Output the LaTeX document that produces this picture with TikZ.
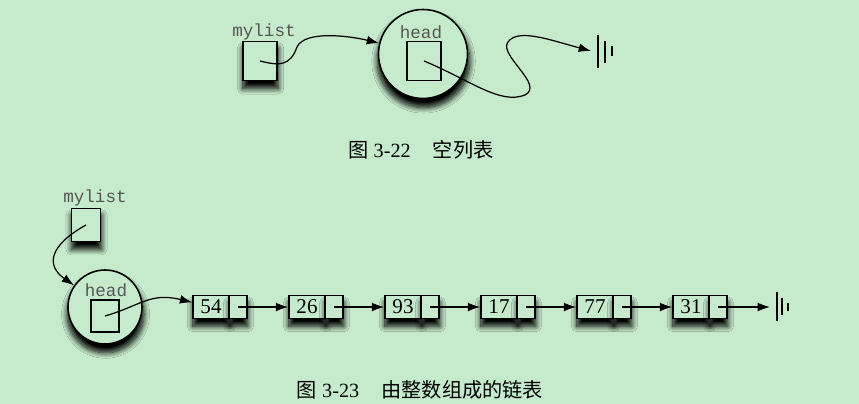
\documentclass[tikz,border=0pt]{standalone}
\usepackage{fontspec}
\setmainfont{Liberation Serif}
\setmonofont{Liberation Mono}
\newfontfamily\cjk{Noto Sans CJK SC}
\usetikzlibrary{arrows.meta,shadows.blur}
\definecolor{bggreen}{HTML}{C6EBCC}
\definecolor{labelgray}{HTML}{555555}
\begin{document}
\begin{tikzpicture}[x=0.02cm,y=-0.02cm,>={Latex[length=7pt,width=5pt]},line width=0.7pt]
        \tikzstyle{shade}=[blur shadow={shadow xshift=0.3pt,shadow yshift=-4pt,shadow scale=1.04,shadow blur radius=3pt,shadow blur steps=10,shadow opacity=100}]
        \tikzstyle{var}=[draw,fill=bggreen,line width=0.9pt,inner sep=0pt,shade]
        \tikzstyle{box}=[draw,line width=0.9pt,inner sep=0pt]
        \tikzstyle{obj}=[circle,draw,fill=bggreen,line width=0.9pt,inner sep=0pt,shade]
        \tikzstyle{item}=[draw,fill=bggreen,line width=0.9pt,inner sep=0pt,minimum width=0.72cm,minimum height=0.46cm,font=\fontsize{12}{13}\selectfont,shade]
        \tikzstyle{link}=[draw,fill=bggreen,line width=0.9pt,inner sep=0pt,minimum width=0.36cm,minimum height=0.46cm,shade]
        \tikzstyle{lbl}=[font=\ttfamily\fontsize{10}{12}\selectfont,text=labelgray,inner sep=0pt]
        \tikzstyle{caption}=[font=\fontsize{11.5}{14}\selectfont,inner sep=0pt]
        \tikzstyle{ground}=[line width=1.1pt]

        \fill[bggreen] (0,0) rectangle (859,404);

        % empty list
        \node [var,minimum width=0.68cm,minimum height=0.78cm] (ml1) at (260,61) {};
        \node [lbl] (mlt1) at (264,32) {mylist};
        \node [obj,minimum size=1.78cm] (hd1) at (423,54) {};
        \node [box,minimum width=0.68cm,minimum height=0.78cm] (hdb1) at (424,61) {};
        \node [lbl] (hdt1) at (421,32) {head};
        \coordinate (g1) at (591,51);

        \draw[->] (ml1.center) .. controls (280,66) and (290,66) .. (297,47)
                  .. controls (305,30) and (350,36) .. (hd1);
        \draw[->] (hdb1.center) .. controls (470,80) and (500,105) .. (525,95)
                  .. controls (545,85) and (498,55) .. (508,42)
                  .. controls (518,28) and (550,40) .. (g1);
        \draw[ground] (g1) ++(7,-16) -- ++(0,33);
        \draw[ground] (g1) ++(14,-10) -- ++(0,22);
        \draw[ground] (g1) ++(21,-5) -- ++(0,10);

        \node [caption] (cap1) at (421,150) {{\cjk 图} 3-22\hspace{1.1em}{\cjk 空列表}};

        % list of integers
        \node [var,minimum width=0.58cm,minimum height=0.66cm] (ml2) at (86,225) {};
        \node [lbl] (mlt2) at (95,198) {mylist};
        \node [obj,minimum size=1.48cm] (hd2) at (105,307) {};
        \node [box,minimum width=0.56cm,minimum height=0.64cm] (hdb2) at (105,316) {};
        \node [lbl] (hdt2) at (106,290) {head};

        \node [item] (n54) at (211,307) {54};
        \node [link] (p54) at (238,307) {};
        \node [item] (n26) at (307,307) {26};
        \node [link] (p26) at (334,307) {};
        \node [item] (n93) at (403,307) {93};
        \node [link] (p93) at (430,307) {};
        \node [item] (n17) at (499,307) {17};
        \node [link] (p17) at (526,307) {};
        \node [item] (n77) at (595,307) {77};
        \node [link] (p77) at (622,307) {};
        \node [item] (n31) at (691,307) {31};
        \node [link] (p31) at (718,307) {};
        \coordinate (g2) at (770,307);

        \draw[->] (ml2.center) .. controls (50,245) and (45,265) .. (hd2);
        \draw[->] (hdb2.center) .. controls (140,306) and (150,292) .. (n54);
        \draw[->] (p54.center) -- (n26);
        \draw[->] (p26.center) -- (n93);
        \draw[->] (p93.center) -- (n17);
        \draw[->] (p17.center) -- (n77);
        \draw[->] (p77.center) -- (n31);
        \draw[->] (p31.center) -- (g2);
        \draw[ground] (g2) ++(7,-15) -- ++(0,29);
        \draw[ground] (g2) ++(12,-9) -- ++(0,17);
        \draw[ground] (g2) ++(18,-4) -- ++(0,8);

        \node [caption] (cap2) at (420,390) {{\cjk 图} 3-23\hspace{1.1em}{\cjk 由整数组成的链表}};
\end{tikzpicture}
\end{document}
